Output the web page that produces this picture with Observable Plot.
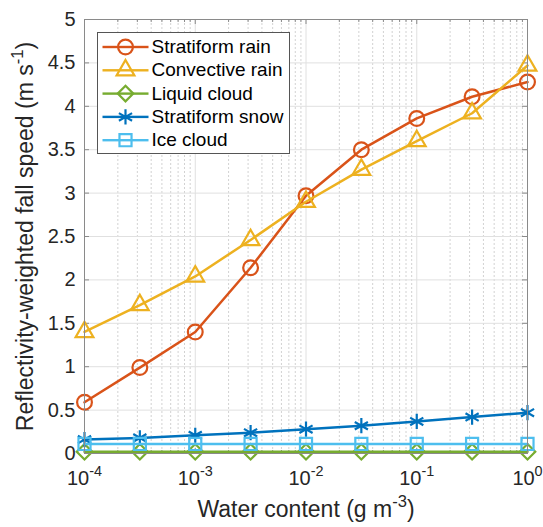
<!DOCTYPE html>
<html><head><meta charset="utf-8">
<script src="https://cdn.jsdelivr.net/npm/d3@7"></script>
<script src="https://cdn.jsdelivr.net/npm/@observablehq/plot@0.6"></script>
<style>body{margin:0;background:#fff;font-family:"Liberation Sans",Arial,sans-serif}</style>
</head><body><div id="chart"></div><script>
// ---- data ----
const waterContent = [1e-4, 3.16e-4, 1e-3, 3.16e-3, 1e-2, 3.16e-2, 1e-1, 3.16e-1, 1];
const seriesNames = ["Stratiform rain", "Convective rain", "Liquid cloud", "Stratiform snow", "Ice cloud"];
const stratiformRain = [0.59, 0.99, 1.40, 2.14, 2.97, 3.50, 3.86, 4.11, 4.28];
const convectiveRain = [1.40, 1.71, 2.04, 2.46, 2.90, 3.27, 3.60, 3.92, 4.47];
const liquidCloud    = [0.02, 0.02, 0.02, 0.02, 0.02, 0.02, 0.02, 0.02, 0.02];
const stratiformSnow = [0.16, 0.18, 0.21, 0.24, 0.28, 0.32, 0.37, 0.42, 0.47];
const iceCloud       = [0.11, 0.11, 0.11, 0.11, 0.11, 0.11, 0.11, 0.11, 0.11];
const seriesValues = [stratiformRain, convectiveRain, liquidCloud, stratiformSnow, iceCloud];
const seriesColors = ["#D95319", "#EDB120", "#77AC30", "#0072BD", "#4DBEEE"];
const seriesSymbols = ["circle", "triangle", "diamond2", "asterisk", "square"];
const seriesR = [7.4, 6.6, 7.0, 7.2, 6.8];
const xTicks = [1e-4, 1e-3, 1e-2, 1e-1, 1];
const xTickLabels = ["10^{-4}", "10^{-3}", "10^{-2}", "10^{-1}", "10^{0}"];
const xMinorTicks = [-4, -3, -2, -1].flatMap(e => [2,3,4,5,6,7,8,9].map(m => m * Math.pow(10, e)));
const yTicks = [0, 0.5, 1, 1.5, 2, 2.5, 3, 3.5, 4, 4.5, 5];
const yTickLabels = ["0", "0.5", "1", "1.5", "2", "2.5", "3", "3.5", "4", "4.5", "5"];
const xLabel = "Water content (g m^{-3})";
const yLabel = "Reflectivity-weighted fall speed (m s^{-1})";

// ---- layout ----
const W = 543, H = 527, mL = 84, mR = 16, mT = 19, mB = 74;
const pw = W - mL - mR, ph = H - mT - mB;
const axisColor = "#8a8a8a";
const textColor = "#262626";

const rows = seriesNames.map((name, i) => waterContent.map((x, j) => ({series: name, x, y: seriesValues[i][j]})));

const marks = [
  Plot.ruleX(xMinorTicks, {stroke: "#d2d2d2", strokeDasharray: "2,2"}),
  Plot.ruleX(xTicks, {stroke: "#e0e0e0"}),
  Plot.ruleY(yTicks, {stroke: "#e0e0e0"}),
  // inward ticks
  Plot.ruleX(xTicks, {stroke: axisColor, insetTop: ph - 5}),
  Plot.ruleX(xTicks, {stroke: axisColor, insetBottom: ph - 5}),
  Plot.ruleX(xMinorTicks, {stroke: axisColor, insetTop: ph - 3}),
  Plot.ruleX(xMinorTicks, {stroke: axisColor, insetBottom: ph - 3}),
  Plot.ruleY(yTicks, {stroke: axisColor, insetRight: pw - 5}),
  Plot.ruleY(yTicks, {stroke: axisColor, insetLeft: pw - 5}),
];
seriesNames.forEach((name, i) => {
  marks.push(Plot.line(rows[i], {x: "x", y: "y", stroke: seriesColors[i], strokeWidth: 2.5}));
  marks.push(Plot.dot(rows[i], {x: "x", y: "y", symbol: () => seriesSymbols[i], stroke: seriesColors[i], fill: "none", strokeWidth: 2.2, r: seriesR[i]}));
});
marks.push(Plot.frame({stroke: axisColor}));
marks.push(Plot.axisX({ticks: xTicks, tickSize: 0, tickPadding: 17, tickFormat: d => xTickLabels[xTicks.indexOf(d)], label: null, fontSize: 20, fill: textColor}));
marks.push(Plot.axisY({ticks: yTicks, tickSize: 0, tickPadding: 9, tickFormat: d => yTickLabels[yTicks.indexOf(d)], label: null, fontSize: 20, fill: textColor}));
marks.push(Plot.text([xLabel], {text: d => d, frameAnchor: "bottom", dy: 56, textAnchor: "middle", lineAnchor: "middle", fontSize: 23, fill: textColor}));
marks.push(Plot.text([yLabel], {text: d => d, frameAnchor: "left", dx: -59, rotate: -90, textAnchor: "middle", lineAnchor: "middle", fontSize: 23, fill: textColor}));

// legend
const legL = 13, legT = 13, legR = 205, legB = 134;
marks.push(Plot.frame({fill: "white", stroke: "#555", insetLeft: legL, insetTop: legT, insetRight: pw - legR, insetBottom: ph - legB}));
seriesNames.forEach((name, i) => {
  const ly = 27.5 + 23.3 * i;
  marks.push(Plot.frame({fill: seriesColors[i], stroke: "none", insetLeft: 18, insetRight: pw - 64, insetTop: ly - 1.2, insetBottom: ph - ly - 1.2}));
  marks.push(Plot.dot([name], {x: null, y: null, frameAnchor: "top-left", dx: 41, dy: ly, symbol: () => seriesSymbols[i], stroke: seriesColors[i], fill: "none", strokeWidth: 2.2, r: seriesR[i]}));
  marks.push(Plot.text([name], {text: d => d, frameAnchor: "top-left", dx: 67, dy: ly, textAnchor: "start", lineAnchor: "middle", fontSize: 19, fill: "#000"}));
});

const chart = Plot.plot({
  width: W, height: H,
  marginLeft: mL, marginRight: mR, marginTop: mT, marginBottom: mB,
  style: {fontFamily: "'Liberation Sans', Arial, sans-serif", background: "white", color: textColor, overflow: "visible"},
  x: {type: "log", domain: [1e-4, 1]},
  y: {domain: [0, 5]},
  marks
});
document.getElementById("chart").appendChild(chart);

// superscripts: "a^{b}c"
d3.select(chart).selectAll("text").each(function() {
  const s = this.textContent;
  if (!s.includes("^{")) return;
  const fs = parseFloat(getComputedStyle(this).fontSize) || 18;
  const parts = s.split(/\^\{([^}]*)\}/);
  this.textContent = "";
  const sel = d3.select(this);
  let up = 0;
  parts.forEach((p, k) => {
    if (p === "") return;
    const t = sel.append("tspan").text(p);
    if (k % 2 === 1) { up = 0.45 * fs; t.attr("dy", -up).attr("font-size", 0.72 * fs); }
    else if (up) { t.attr("dy", up); up = 0; }
  });
});
</script></body></html>
